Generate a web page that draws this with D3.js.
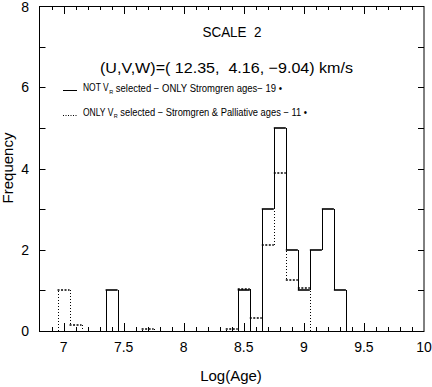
<!DOCTYPE html>
<html>

<head>
    <script src="https://d3js.org/d3.v7.min.js"></script>
    <style>
        body {
            margin: 0;
            background: #ffffff;
        }

        text {
            font-family: "Liberation Sans", Arial, sans-serif;
            fill: #000;
            white-space: pre;
        }
    </style>
</head>

<body>
    <div id="chart"></div>

    <script>
        // histogram bin centres (log age), bin width 0.1
        var binCenters = [7.0, 7.1, 7.2, 7.3, 7.4, 7.5, 7.6, 7.7, 7.8, 7.9, 8.0, 8.1,
            8.2, 8.3, 8.4, 8.5, 8.6, 8.7, 8.8, 8.9, 9.0, 9.1, 9.2, 9.3];

        // NOT V_R selected - only Stromgren ages (19 stars)
        var solidCounts = [0, 0, 0, 0, 1, 0, 0, 0, 0, 0, 0, 0,
            0, 0, 0, 1, 0, 3, 5, 2, 1, 2, 3, 1];

        // ONLY V_R selected - Stromgren & Palliative ages (11 stars, weighted)
        var dottedCounts = [1, 0.15, 0, 0, 0, 0, 0, 0.05, 0, 0, 0, 0,
            0, 0, 0.06, 1.04, 0.33, 2.12, 3.9, 1.26, 1.06, 0, 0, 0];

        var xTickLabels = [7, 7.5, 8, 8.5, 9, 9.5, 10];
        var yTickLabels = [0, 2, 4, 6, 8];

        var width = 432,
            height = 387,
            binWidth = 0.1;

        var svg = d3.select("#chart")
            .append("svg")
            .attr("width", width)
            .attr("height", height);

        var x = d3.scaleLinear().domain([6.8, 10]).range([39.5, 424]);
        var y = d3.scaleLinear().domain([0, 8]).range([331, 6]);

        var plotLeft = x.range()[0], plotRight = x.range()[1];
        var plotTop = y.range()[1], plotBottom = y.range()[0];

        // frame
        svg.append("rect")
            .attr("x", plotLeft)
            .attr("y", plotTop + 0.5)
            .attr("width", plotRight - plotLeft)
            .attr("height", plotBottom - plotTop)
            .attr("fill", "none")
            .attr("stroke", "#000")
            .attr("stroke-width", 1);

        // x ticks: minor every 0.1, major every 0.5, bottom and top
        var xMinor = d3.range(69, 100).map(function(d) { return d / 10; });
        var ticks = svg.append("g").attr("stroke", "#000").attr("stroke-width", 1);
        xMinor.forEach(function(t) {
            var major = Math.abs(t * 2 - Math.round(t * 2)) < 1e-6;
            var len = major ? 8 : 4;
            var px = Math.round(x(t)) + 0.5;
            ticks.append("line").attr("x1", px).attr("x2", px)
                .attr("y1", plotBottom).attr("y2", plotBottom - len);
            ticks.append("line").attr("x1", px).attr("x2", px)
                .attr("y1", plotTop).attr("y2", plotTop + len);
        });

        // y ticks every 1, left and right
        d3.range(1, 8).forEach(function(t) {
            var py = Math.round(y(t)) + 0.5;
            ticks.append("line").attr("x1", plotLeft).attr("x2", plotLeft + 6)
                .attr("y1", py).attr("y2", py);
            ticks.append("line").attr("x1", plotRight).attr("x2", plotRight - 6)
                .attr("y1", py).attr("y2", py);
        });

        // tick labels
        svg.append("g").selectAll("text")
            .data(xTickLabels)
            .enter().append("text")
            .attr("x", function(d) { return x(d); })
            .attr("y", 352)
            .attr("text-anchor", "middle")
            .attr("font-size", 14)
            .text(function(d) { return d; });

        svg.append("g").selectAll("text")
            .data(yTickLabels)
            .enter().append("text")
            .attr("x", 29)
            .attr("y", function(d) { return Math.max(y(d) + 5, 12); })
            .attr("text-anchor", "end")
            .attr("font-size", 14)
            .text(function(d) { return d; });

        // axis titles
        svg.append("text")
            .attr("x", 231)
            .attr("y", 381)
            .attr("text-anchor", "middle")
            .attr("font-size", 15)
            .text("Log(Age)");

        svg.append("text")
            .attr("transform", "translate(13,168) rotate(-90)")
            .attr("text-anchor", "middle")
            .attr("font-size", 15)
            .text("Frequency");

        // histogram outlines
        function drawHist(values, dashH, dashV) {
            var g = svg.append("g");
            var h = g.append("g").attr("stroke", "#000").attr("stroke-width", 1.6);
            var v = g.append("g").attr("stroke", "#000").attr("stroke-width", 1);
            if (dashH) h.attr("stroke-dasharray", dashH);
            if (dashV) v.attr("stroke-dasharray", dashV);

            values.forEach(function(val, i) {
                var x0 = x(binCenters[i] - binWidth / 2),
                    x1 = x(binCenters[i] + binWidth / 2);
                if (val > 0) {
                    var py = Math.round(y(val));
                    h.append("line").attr("x1", x0).attr("x2", x1)
                        .attr("y1", py).attr("y2", py);
                }
                var prev = i > 0 ? values[i - 1] : 0;
                if (prev !== val) {
                    var px = Math.round(x0) + 0.5;
                    v.append("line").attr("x1", px).attr("x2", px)
                        .attr("y1", Math.round(y(prev))).attr("y2", Math.round(y(val)));
                }
                if (i === values.length - 1 && val > 0) {
                    var pe = Math.round(x1) + 0.5;
                    v.append("line").attr("x1", pe).attr("x2", pe)
                        .attr("y1", Math.round(y(val))).attr("y2", plotBottom);
                }
            });
        }

        drawHist(dottedCounts, "2,1.5", "1,2");
        drawHist(solidCounts, null, null);

        // titles
        svg.append("text")
            .attr("x", 232)
            .attr("y", 37)
            .attr("text-anchor", "middle")
            .attr("font-size", 14)
            .attr("textLength", 59)
            .attr("lengthAdjust", "spacingAndGlyphs")
            .text("SCALE  2");

        svg.append("text")
            .attr("x", 100)
            .attr("y", 73)
            .attr("font-size", 15)
            .attr("textLength", 253)
            .attr("lengthAdjust", "spacingAndGlyphs")
            .text("(U,V,W)=( 12.35,  4.16, \u22129.04) km/s");

        // legend
        svg.append("line")
            .attr("x1", 63).attr("x2", 77)
            .attr("y1", 90.5).attr("y2", 90.5)
            .attr("stroke", "#000").attr("stroke-width", 1);

        svg.append("line")
            .attr("x1", 63).attr("x2", 77)
            .attr("y1", 115.5).attr("y2", 115.5)
            .attr("stroke", "#000").attr("stroke-width", 1)
            .attr("stroke-dasharray", "1,1.5");

        function legendText(yPos, head, tail, endX) {
            var a = svg.append("text")
                .attr("x", 83).attr("y", yPos)
                .attr("font-size", 10)
                .attr("transform", "translate(83," + yPos + ") scale(0.85,1) translate(-83," + (-yPos) + ")")
                .text(head);
            var aw = a.node().getComputedTextLength() * 0.85;
            svg.append("text")
                .attr("x", 83 + aw + 0.5).attr("y", yPos + 2)
                .attr("font-size", 5.5)
                .text("R");
            var bx = 83 + aw + 7;
            svg.append("text")
                .attr("x", bx).attr("y", yPos)
                .attr("font-size", 10)
                .attr("textLength", endX - bx)
                .attr("lengthAdjust", "spacingAndGlyphs")
                .text(tail);
        }

        legendText(91.5, "NOT V", "selected \u2212 ONLY Stromgren ages\u2212 19 \u2022", 282);
        legendText(116, "ONLY V", "selected \u2212 Stromgren & Palliative ages \u2212 11 \u2022", 307);
    </script>

</body>

</html>
